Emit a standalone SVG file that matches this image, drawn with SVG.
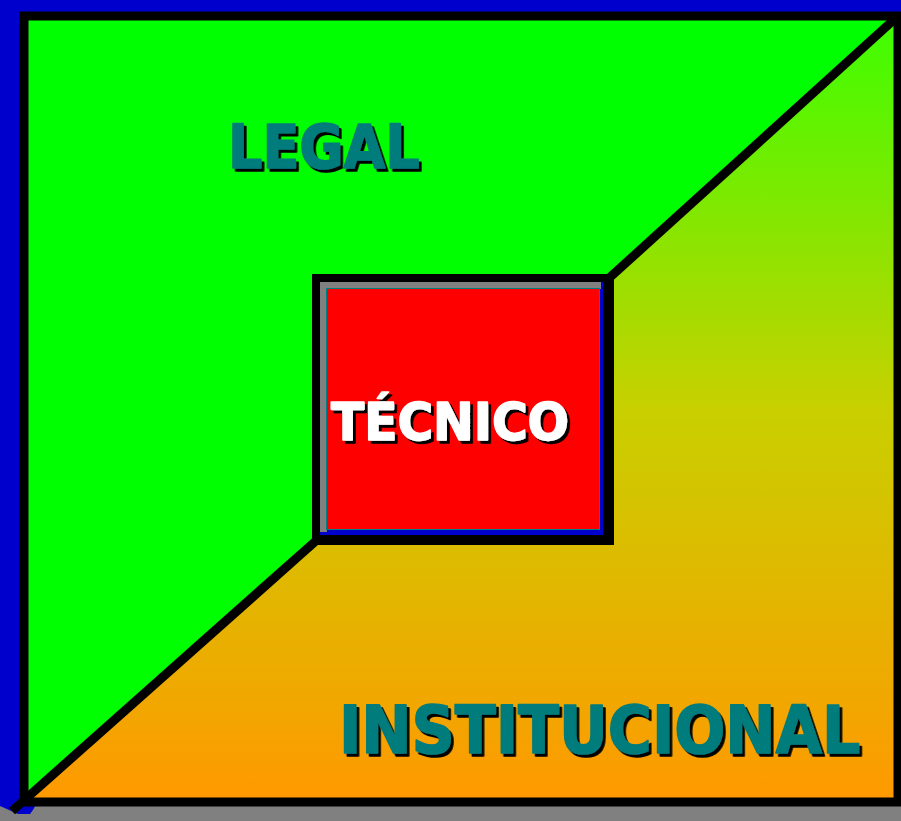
<svg xmlns="http://www.w3.org/2000/svg" width="901" height="821" viewBox="0 0 901 821">
<defs>
<linearGradient id="g" x1="0" y1="16" x2="0" y2="801" gradientUnits="userSpaceOnUse">
<stop offset="0" stop-color="#3cff00"/>
<stop offset="0.5" stop-color="#c8d000"/>
<stop offset="1" stop-color="#ff9900"/>
</linearGradient>
<filter id="ds" x="-10%" y="-30%" width="125%" height="170%">
<feDropShadow dx="3" dy="3" stdDeviation="0" flood-color="#000000" flood-opacity="1"/>
</filter>
</defs>
<style>
.lbl{font-family:"DejaVu Sans",Verdana,sans-serif;font-weight:bold;filter:url(#ds);stroke-width:1.6;stroke-linejoin:round}
.teal{fill:#007b7b;stroke:#007b7b}
.white{fill:#ffffff;stroke:#ffffff}
.ln{stroke:#000;stroke-width:9;fill:none}
</style>
<rect width="901" height="821" fill="#808080"/>
<g id="bevel">
<polygon points="0,0 901,0 901,12 20,12 20,804 36,806 30,814 18,814 0,806" fill="#0000cc"/>
<polygon points="36,804 901,804 901,821 28,821" fill="#808080"/>
</g>
<g id="background">
<rect x="24" y="16" width="874" height="785" fill="url(#g)"/>
<polygon points="24,16 898,16 609,278 316,278 316,540 24,801" fill="#00ff00"/>
</g>
<g id="connectors">
<line class="ln" x1="12" y1="811" x2="318" y2="539"/>
<line class="ln" x1="607" y1="280" x2="898" y2="16"/>
<rect class="ln" x="24" y="16" width="874" height="786" stroke-width="8"/>
</g>
<g id="tecnico">
<rect x="312" y="274" width="302" height="271" fill="#000"/>
<rect x="320" y="282" width="283" height="253" fill="#0000cc"/>
<polygon points="320,282 601,282 601,289 327,289 327,532 320,532" fill="#808080"/>
<rect x="326.5" y="288.5" width="273" height="241" fill="#ff0000" stroke="#008080" stroke-width="1"/>
<text class="lbl white" transform="translate(331,440) scale(0.954,1)" x="0" y="0" font-size="51">TÉCNICO</text>
</g>
<g id="legal">
<text class="lbl teal" transform="translate(228,168) scale(0.9,1)" x="0" y="0" font-size="60">LEGAL</text>
</g>
<g id="institucional">
<text class="lbl teal" transform="translate(339,753) scale(0.91,1)" x="0" y="0" font-size="66">INSTITUCIONAL</text>
</g>
</svg>
